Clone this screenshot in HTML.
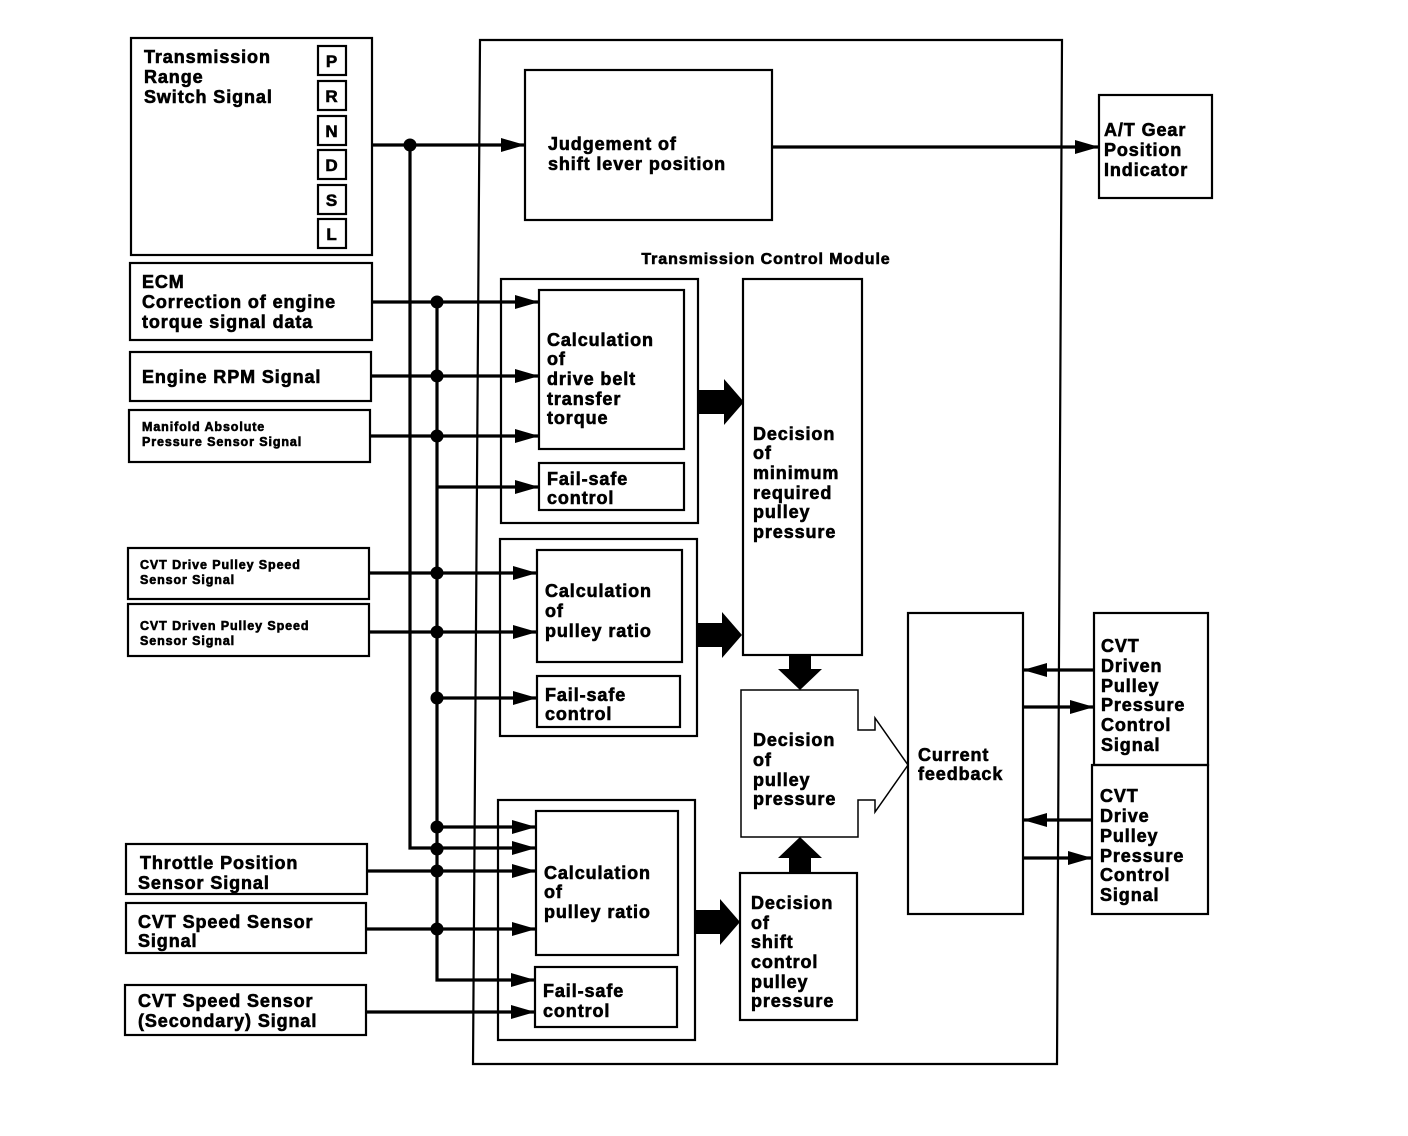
<!DOCTYPE html>
<html><head><meta charset="utf-8"><style>
html,body{margin:0;padding:0;background:#fff;}
svg{display:block;}
text{font-family:"Liberation Sans",sans-serif;font-weight:bold;fill:#000;stroke:#000;stroke-width:0.6;letter-spacing:0.9px;}
</style></head><body>
<svg width="1408" height="1136" viewBox="0 0 1408 1136" xmlns="http://www.w3.org/2000/svg">
<defs>
<marker id="ar" markerWidth="24" markerHeight="14" refX="24" refY="7" orient="auto" markerUnits="userSpaceOnUse">
<path d="M0,0 L24,7 L0,14 Z" fill="#000"/></marker>
</defs>
<g fill="none" stroke="#000" stroke-width="2.2">
<polygon points="480,40 1062,40 1057,1064 473,1064"/>
<rect x="131" y="38" width="241" height="217"/>
<rect x="130" y="263" width="242" height="77"/>
<rect x="130" y="352" width="241" height="49"/>
<rect x="129" y="410" width="241" height="52"/>
<rect x="128" y="548" width="241" height="51"/>
<rect x="128" y="604" width="241" height="52"/>
<rect x="126" y="844" width="241" height="50"/>
<rect x="126" y="903" width="240" height="50"/>
<rect x="125" y="985" width="241" height="50"/>
<rect x="318" y="46" width="28" height="29"/>
<rect x="318" y="81" width="28" height="29"/>
<rect x="318" y="116" width="28" height="29"/>
<rect x="318" y="150" width="28" height="29"/>
<rect x="318" y="185" width="28" height="29"/>
<rect x="318" y="219" width="28" height="29"/>
<rect x="525" y="70" width="247" height="150"/>
<rect x="1099" y="95" width="113" height="103"/>
<rect x="501" y="279" width="197" height="244"/>
<rect x="539" y="290" width="145" height="159"/>
<rect x="539" y="463" width="145" height="47"/>
<rect x="500" y="539" width="197" height="197"/>
<rect x="537" y="550" width="145" height="112"/>
<rect x="537" y="676" width="143" height="51"/>
<rect x="498" y="800" width="197" height="240"/>
<rect x="536" y="811" width="142" height="144"/>
<rect x="535" y="967" width="142" height="60"/>
<rect x="743" y="279" width="119" height="376"/>
<rect x="740" y="873" width="117" height="147"/>
<rect x="908" y="613" width="115" height="301"/>
<rect x="1094" y="613" width="114" height="152"/>
<rect x="1092" y="765" width="116" height="149"/>
<path d="M741,690 H858 V730 H875 V718 L908,765 L875,812 V800 H858 V837 H741 Z" stroke-width="1.5"/>
</g>
<g fill="none" stroke="#000" stroke-width="3.2">
<line x1="372" y1="145" x2="525" y2="145" marker-end="url(#ar)"/>
<line x1="772" y1="147" x2="1099" y2="147" marker-end="url(#ar)"/>
<polyline points="410,145 410,848 536,848" marker-end="url(#ar)"/>
<polyline points="437,302 437,980 535,980" marker-end="url(#ar)"/>
<line x1="372" y1="302" x2="539" y2="302" marker-end="url(#ar)"/>
<line x1="371" y1="376" x2="539" y2="376" marker-end="url(#ar)"/>
<line x1="370" y1="436" x2="539" y2="436" marker-end="url(#ar)"/>
<line x1="437" y1="487" x2="539" y2="487" marker-end="url(#ar)"/>
<line x1="369" y1="573" x2="537" y2="573" marker-end="url(#ar)"/>
<line x1="369" y1="632" x2="537" y2="632" marker-end="url(#ar)"/>
<line x1="437" y1="698" x2="537" y2="698" marker-end="url(#ar)"/>
<line x1="437" y1="827" x2="536" y2="827" marker-end="url(#ar)"/>
<line x1="367" y1="871" x2="536" y2="871" marker-end="url(#ar)"/>
<line x1="366" y1="929" x2="536" y2="929" marker-end="url(#ar)"/>
<line x1="366" y1="1012" x2="535" y2="1012" marker-end="url(#ar)"/>
<line x1="1094" y1="670" x2="1023" y2="670" marker-end="url(#ar)"/>
<line x1="1023" y1="707" x2="1094" y2="707" marker-end="url(#ar)"/>
<line x1="1092" y1="820" x2="1023" y2="820" marker-end="url(#ar)"/>
<line x1="1023" y1="858" x2="1092" y2="858" marker-end="url(#ar)"/>
</g>
<g fill="#000">
<circle cx="410" cy="145" r="6.5"/>
<circle cx="437" cy="302" r="6.5"/><circle cx="437" cy="376" r="6.5"/><circle cx="437" cy="436" r="6.5"/>
<circle cx="437" cy="573" r="6.5"/><circle cx="437" cy="632" r="6.5"/><circle cx="437" cy="698" r="6.5"/>
<circle cx="437" cy="827" r="6.5"/><circle cx="437" cy="849" r="6.5"/><circle cx="437" cy="871" r="6.5"/><circle cx="437" cy="929" r="6.5"/>
<path d="M698,390 H724 V379 L744,402 L724,425 V414 H698 Z"/>
<path d="M697,623 H722 V612 L742,635 L722,658 V647 H697 Z"/>
<path d="M695,910 H720 V899 L740,922 L720,945 V934 H695 Z"/>
<path d="M789,655 V669 H778 L800,690 L822,669 H811 V655 Z"/>
<path d="M789,873 V858 H778 L800,837 L822,858 H811 V873 Z"/>
</g>
<g font-size="18">
<text x="144" y="63">Transmission</text><text x="144" y="83">Range</text><text x="144" y="103">Switch Signal</text>
<text x="142" y="288">ECM</text><text x="142" y="308">Correction of engine</text><text x="142" y="328">torque signal data</text>
<text x="142" y="383">Engine RPM Signal</text>
<text x="140" y="869">Throttle Position</text><text x="138" y="889">Sensor Signal</text>
<text x="138" y="928">CVT Speed Sensor</text><text x="138" y="947">Signal</text>
<text x="138" y="1007">CVT Speed Sensor</text><text x="138" y="1027">(Secondary) Signal</text>
<text x="548" y="150">Judgement of</text><text x="548" y="170">shift lever position</text>
<text x="1104" y="136">A/T Gear</text><text x="1104" y="156">Position</text><text x="1104" y="176">Indicator</text>
<text x="547" y="346">Calculation</text><text x="547" y="365">of</text><text x="547" y="385">drive belt</text><text x="547" y="405">transfer</text><text x="547" y="424">torque</text>
<text x="547" y="485">Fail-safe</text><text x="547" y="504">control</text>
<text x="545" y="597">Calculation</text><text x="545" y="617">of</text><text x="545" y="637">pulley ratio</text>
<text x="545" y="701">Fail-safe</text><text x="545" y="720">control</text>
<text x="544" y="879">Calculation</text><text x="544" y="898">of</text><text x="544" y="918">pulley ratio</text>
<text x="543" y="997">Fail-safe</text><text x="543" y="1017">control</text>
<text x="753" y="440">Decision</text><text x="753" y="459">of</text><text x="753" y="479">minimum</text><text x="753" y="499">required</text><text x="753" y="518">pulley</text><text x="753" y="538">pressure</text>
<text x="753" y="746">Decision</text><text x="753" y="766">of</text><text x="753" y="786">pulley</text><text x="753" y="805">pressure</text>
<text x="751" y="909">Decision</text><text x="751" y="929">of</text><text x="751" y="948">shift</text><text x="751" y="968">control</text><text x="751" y="988">pulley</text><text x="751" y="1007">pressure</text>
<text x="918" y="761">Current</text><text x="918" y="780">feedback</text>
<text x="1101" y="652">CVT</text><text x="1101" y="672">Driven</text><text x="1101" y="692">Pulley</text><text x="1101" y="711">Pressure</text><text x="1101" y="731">Control</text><text x="1101" y="751">Signal</text>
<text x="1100" y="802">CVT</text><text x="1100" y="822">Drive</text><text x="1100" y="842">Pulley</text><text x="1100" y="862">Pressure</text><text x="1100" y="881">Control</text><text x="1100" y="901">Signal</text>
</g>
<g font-size="17" text-anchor="middle" style="letter-spacing:0">
<text x="332" y="67">P</text><text x="332" y="102">R</text><text x="332" y="137">N</text><text x="332" y="171">D</text><text x="332" y="206">S</text><text x="332" y="240">L</text>
</g>
<text x="766" y="264" font-size="16" text-anchor="middle">Transmission Control Module</text>
<g font-size="12.5" style="letter-spacing:0.4px">
<text x="142" y="431">Manifold Absolute</text><text x="142" y="446">Pressure Sensor Signal</text>
<text x="140" y="569">CVT Drive Pulley Speed</text><text x="140" y="584">Sensor Signal</text>
<text x="140" y="630">CVT Driven Pulley Speed</text><text x="140" y="645">Sensor Signal</text>
</g>
</svg>
</body></html>
